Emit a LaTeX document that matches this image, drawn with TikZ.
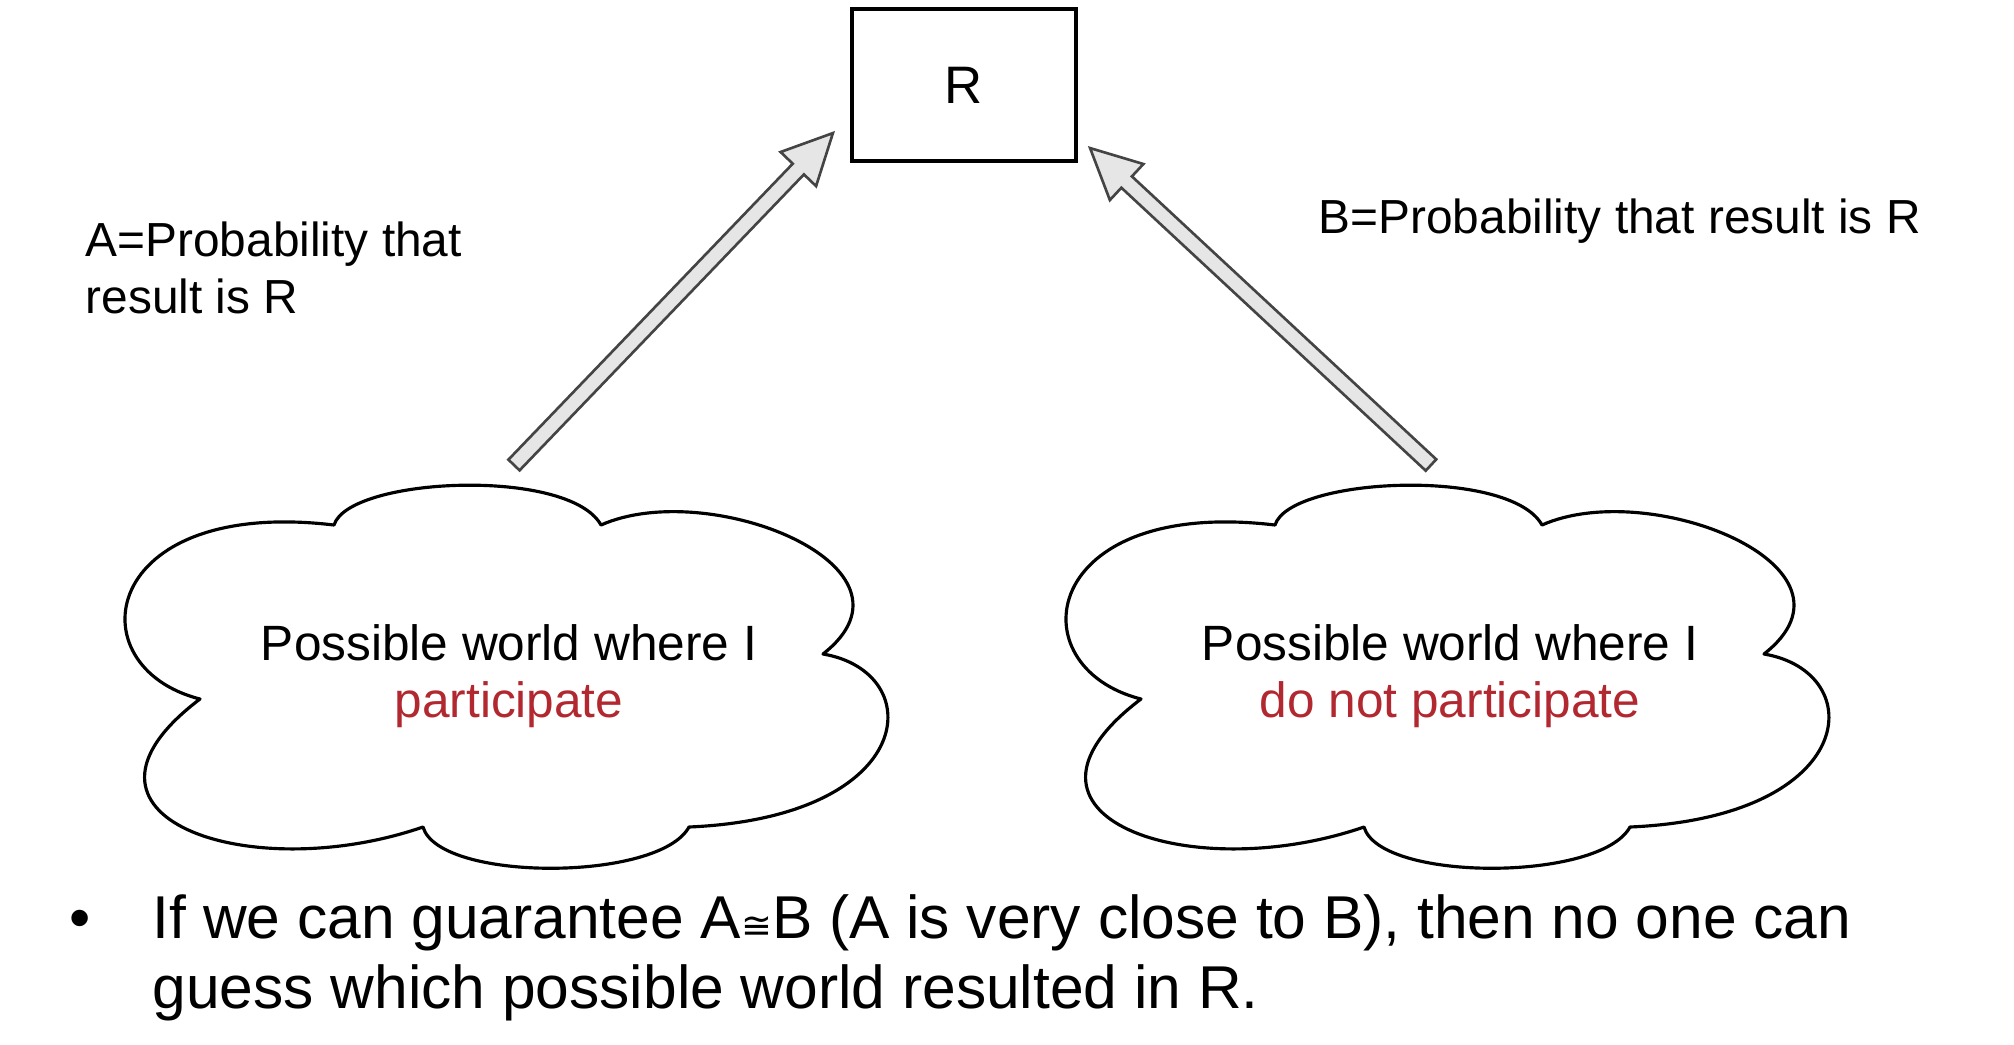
\documentclass[tikz,border=0pt]{standalone}
\usepackage{fontspec}
\setmainfont{Liberation Sans}
\newfontfamily\symfont{DejaVu Sans}
\usetikzlibrary{calc}

\definecolor{worldred}{RGB}{178,40,48}
\definecolor{arrowline}{RGB}{68,68,68}
\definecolor{arrowfill}{RGB}{230,230,230}

% hollow block arrow from #1 to #2
\newcommand{\blockarrow}[2]{%
  \coordinate (hb) at ($(#2)!14.2pt!(#1)$);
  \filldraw[fill=arrowfill, draw=arrowline, line width=0.75pt, line join=miter]
    ($(#1)!2.2pt!90:(#2)$) -- ($(hb)!2.2pt!90:(#2)$) -- ($(hb)!7pt!90:(#2)$)
    -- (#2) -- ($(hb)!7pt!-90:(#2)$) -- ($(hb)!2.2pt!-90:(#2)$)
    -- ($(#1)!2.2pt!-90:(#2)$) -- cycle;
}

\begin{document}
\begin{tikzpicture}[x=0.01cm, y=-0.01cm,
    rbox/.style={draw, line width=1.1pt, inner sep=0pt, outer sep=0pt,
      minimum width=2.24cm, minimum height=1.52cm, font=\fontsize{15}{18}\selectfont},
    label/.style={anchor=base west, align=left, inner sep=0pt,
      font=\fontsize{13.6}{16.1}\selectfont},
    worldtext/.style={anchor=base, align=center, inner sep=0pt,
      font=\fontsize{14.1}{16.2}\selectfont},
    bullet/.style={anchor=base west, align=left, inner sep=0pt,
      font=\fontsize{17.2}{19.9}\selectfont},
    world/.pic={
      \draw[line width=0.9pt, line join=round]
        (-175,-152) .. controls (-160,-200) and (60,-210) .. (92,-152)
        .. controls (200,-200) and (425,-110) .. (314,-23)
        .. controls (420,-5) and (410,140) .. (180,150)
        .. controls (150,205) and (-70,205) .. (-86,150)
        .. controls (-260,210) and (-465,140) .. (-309,22)
        .. controls (-435,-10) and (-410,-180) .. (-175,-152) -- cycle;
    }]
  \useasboundingbox (0,0) rectangle (2014,1044);

  \node[rbox] (r) at (964,85) {R};

  \pic at (509,677) {world};
  \pic at (1450,677) {world};
  \node[worldtext] (wl) at (509,717) {Possible world where I\\\textcolor{worldred}{participate}};
  \node[worldtext] (wr) at (1450,717) {Possible world where I\\\textcolor{worldred}{do not participate}};

  \node[label] (pa) at (85,313) {A=Probability that\\result is R};
  \node[label] (pb) at (1318,233) {B=Probability that result is R};

  \coordinate (tl) at (514,465);
  \coordinate (tr) at (1431,465);
  \coordinate (hl) at ($(r.south west)+(-19,-28)$);
  \coordinate (hr) at ($(r.south east)+(14,-13)$);
  \blockarrow{tl}{hl}
  \blockarrow{tr}{hr}

  \node[bullet, anchor=base] (dot) at (80,938) {•};
  \node[bullet] (note) at (152,1008) {If we can guarantee A{\symfont\fontsize{10.5}{11}\selectfont ≅}B (A is very close to B), then no one can\\guess which possible world resulted in R.};
\end{tikzpicture}
\end{document}
